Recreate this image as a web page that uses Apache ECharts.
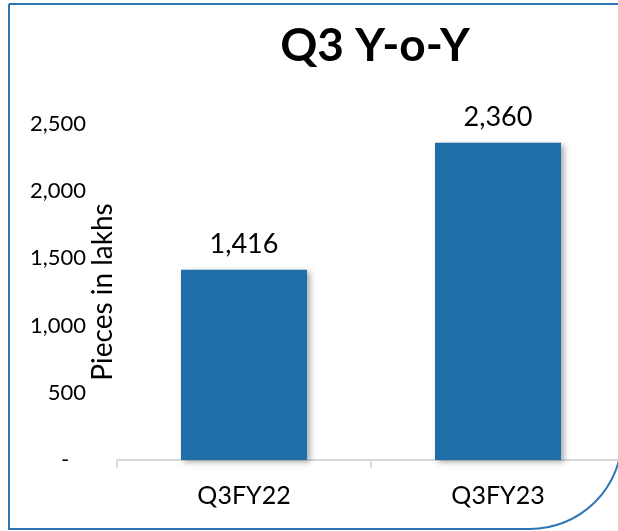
<!DOCTYPE html>
<html>
<head>
<meta charset="utf-8">
<script src="https://cdn.jsdelivr.net/npm/echarts@6/dist/echarts.min.js"></script>
<style>
  html, body { margin: 0; padding: 0; background: #fff; }
  #q3Chart { width: 618px; height: 531px; }
</style>
</head>
<body>
<div id="q3Chart"></div>
<script>
// 数据
var categories = ['Q3FY22', 'Q3FY23']
var pieces = [1416, 2360]
var yTicks = [0, 500, 1000, 1500, 2000, 2500]

var fontName = 'Lato'

function fmtNum (v) {
    // 零值按会计格式显示为 "-"
    if (v === 0) return '-   '
    return Number(v).toLocaleString('en-US')
}

var q3Dom = document.getElementById('q3Chart')
var q3Bar = echarts.init(q3Dom)

var q3Option = {
    animation: false,
    title: {
        text: 'Q3 Y-o-Y',
        left: 370,
        top: 18,
        textAlign: 'center',
        textStyle: { fontFamily: fontName, fontWeight: 'bold', fontSize: 46, color: '#000' }
    },
    // 边框 左上直角 右下圆角
    graphic: [{
        type: 'rect',
        shape: { x: 9, y: 4, width: 613, height: 525, r: [0, 0, 92, 0] },
        style: { fill: 'none', stroke: '#2e75b6', lineWidth: 2 },
        z: 100
    }],
    grid: { left: 117, top: 124, width: 508, height: 336, outerBoundsMode: 'none', containLabel: false },
    xAxis: {
        type: 'category',
        data: categories,
        axisLine: { lineStyle: { color: '#d9d9d9', width: 2 } },
        axisTick: { show: true, length: 8, lineStyle: { color: '#d9d9d9', width: 2 } },
        axisLabel: { fontFamily: fontName, fontSize: 25, color: '#000', margin: 23 }
    },
    yAxis: {
        type: 'value',
        min: yTicks[0],
        max: yTicks[yTicks.length - 1],
        interval: 500,
        name: 'Pieces in lakhs',
        nameLocation: 'middle',
        nameRotate: 90,
        nameGap: 0,
        nameMoveOverlap: false,
        nameTextStyle: { fontFamily: fontName, fontSize: 28, color: '#000' },
        axisLine: { show: false },
        axisTick: { show: false },
        splitLine: { show: false },
        axisLabel: { fontFamily: fontName, fontSize: 22, color: '#000', margin: 31, formatter: fmtNum }
    },
    series: [{
        type: 'bar',
        data: pieces,
        barWidth: 126,
        itemStyle: {
            color: '#1f6ea8',
            shadowColor: 'rgba(0,0,0,0.35)',
            shadowBlur: 6,
            shadowOffsetX: 3,
            shadowOffsetY: 2
        },
        label: {
            show: true,
            position: 'top',
            distance: 12,
            fontFamily: fontName,
            fontSize: 27,
            color: '#000',
            formatter: function (p) { return fmtNum(p.value) }
        }
    }]
}

q3Bar.setOption(q3Option)
</script>
</body>
</html>
